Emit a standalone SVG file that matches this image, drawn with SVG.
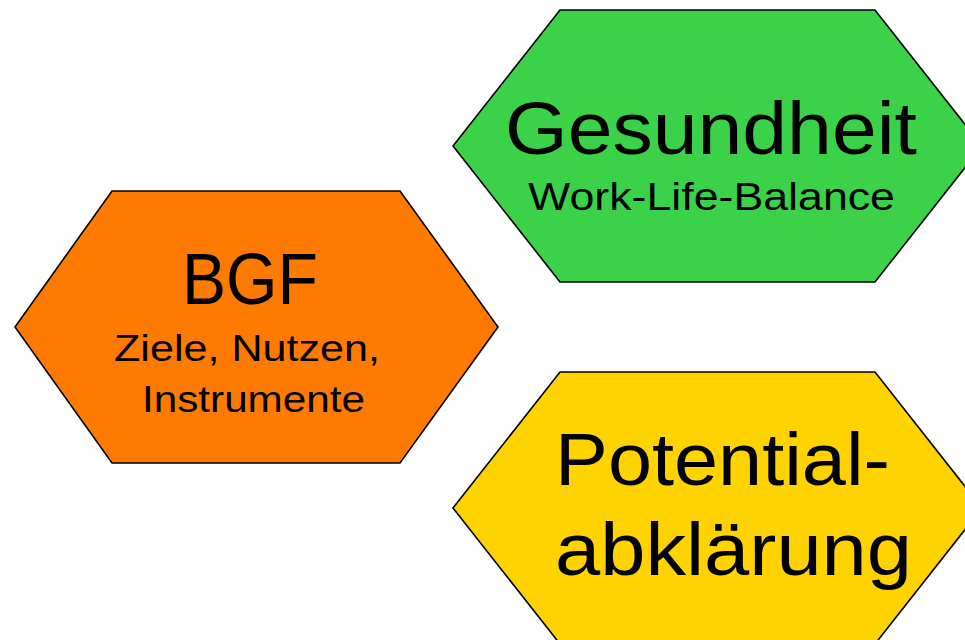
<svg xmlns="http://www.w3.org/2000/svg" width="965" height="640" viewBox="0 0 965 640">
<style>
.hex{stroke:#000;stroke-width:1.6;stroke-linejoin:miter}
.t{font-family:"Century Gothic","URW Gothic","Liberation Sans",sans-serif;fill:#000}
</style>
<rect width="965" height="640" fill="#fff"/>
<g id="node-gesundheit">
<polygon class="hex" fill="#3BD24A" points="453,146 560,10 875,10 982,146 875,282 560,282"/>
<text class="t" x="505" y="154" font-size="75" textLength="412" lengthAdjust="spacingAndGlyphs">Gesundheit</text>
<text class="t" x="528" y="210" font-size="38" textLength="367" lengthAdjust="spacingAndGlyphs">Work-Life-Balance</text>
</g>
<g id="node-bgf">
<polygon class="hex" fill="#FF7B00" points="15,327 112,191 400,191 498,327 400,463 112,463"/>
<text class="t" x="182" y="304" font-size="72" textLength="136" lengthAdjust="spacingAndGlyphs">BGF</text>
<text class="t" x="114" y="361" font-size="37" textLength="266" lengthAdjust="spacingAndGlyphs">Ziele, Nutzen,</text>
<text class="t" x="142" y="412" font-size="37" textLength="223" lengthAdjust="spacingAndGlyphs">Instrumente</text>
</g>
<g id="node-potential">
<polygon class="hex" fill="#FFD300" points="453,508 560,372 875,372 982,508 875,644 560,644"/>
<text class="t" x="555" y="485" font-size="74" textLength="335" lengthAdjust="spacingAndGlyphs">Potential-</text>
<text class="t" x="555" y="575" font-size="74" textLength="357" lengthAdjust="spacingAndGlyphs">abklärung</text>
</g>
<g id="connectors"></g>
</svg>
